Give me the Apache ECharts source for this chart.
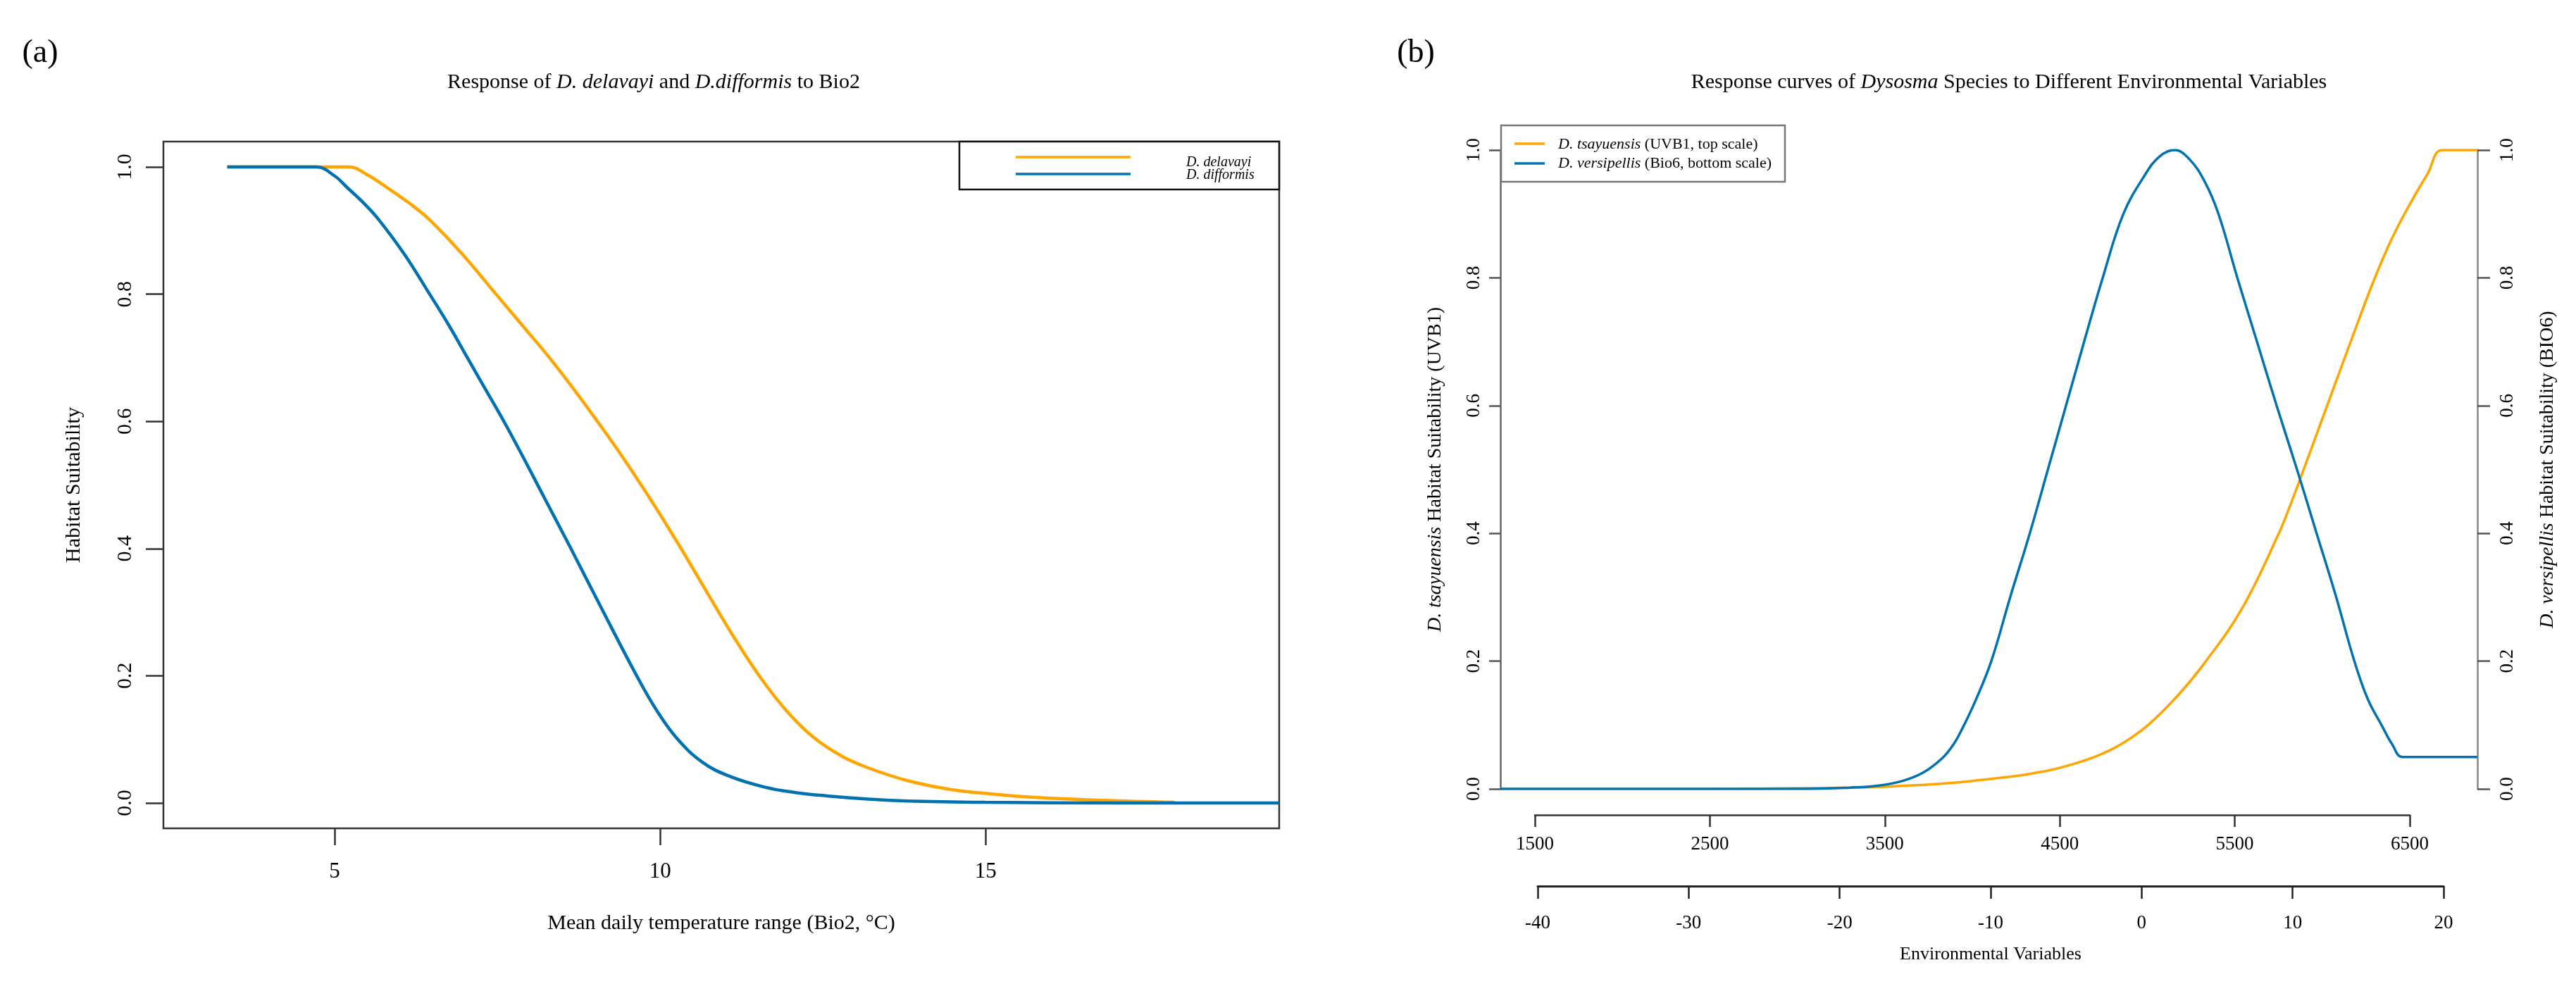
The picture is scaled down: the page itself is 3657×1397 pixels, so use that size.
<!DOCTYPE html>
<html>
<head>
<meta charset="utf-8">
<script src="https://cdn.jsdelivr.net/npm/echarts@6/dist/echarts.min.js"></script>
<style>
html,body{margin:0;padding:0;background:#fff;}
#chart{width:3657px;height:1397px;}
</style>
</head>
<body>
<div id="chart"></div>
<script>
// ---------- Panel (a): response to Bio2 ----------
const bio2X_delavayi = [3.35, 5.22, 5.5, 5.83, 6.15, 6.46, 6.97, 7.48, 7.9, 8.3, 8.67, 9.03, 9.43, 9.83, 10.1, 10.34, 10.75, 11.15, 11.55, 11.95, 12.37, 12.8, 13.2, 13.8, 14.47, 15.1, 15.7, 16.8, 17.9];
const suit_delavayi = [1.0, 1.0, 0.988, 0.966, 0.943, 0.917, 0.862, 0.8, 0.749, 0.7, 0.651, 0.601, 0.543, 0.481, 0.437, 0.397, 0.326, 0.258, 0.196, 0.144, 0.102, 0.073, 0.055, 0.035, 0.021, 0.014, 0.009, 0.004, 0.001];
const bio2X_difformis = [3.35, 4.72, 5.0, 5.19, 5.45, 5.68, 6.07, 6.46, 6.75, 7.04, 7.32, 7.6, 7.9, 8.18, 8.4, 8.63, 9.13, 9.64, 9.95, 10.27, 10.65, 11.04, 11.6, 12.1, 12.56, 13.2, 13.8, 15.0, 17.0, 19.51];
const suit_difformis = [1.0, 1.0, 0.986, 0.968, 0.943, 0.917, 0.863, 0.8, 0.752, 0.7, 0.65, 0.6, 0.543, 0.488, 0.445, 0.4, 0.3, 0.2, 0.145, 0.1, 0.064, 0.043, 0.025, 0.016, 0.011, 0.006, 0.003, 0.001, 0.0, 0.0];
const bio2Ticks = [5, 10, 15];
const suitTicks = [0, 0.2, 0.4, 0.6, 0.8, 1.0];

// ---------- Panel (b): D. tsayuensis (UVB1, top scale) ----------
const uvb1X_tsayuensis = [1303, 2000, 2500, 3000, 3300, 3468, 3700, 3871, 4050, 4246, 4339, 4500, 4698, 4850, 5004, 5170, 5335, 5542, 5750, 5811, 5873, 6010, 6150, 6290, 6400, 6516, 6600, 6685, 6886];
const suit_tsayuensis = [0, 0, 0, 0.001, 0.002, 0.003, 0.006, 0.009, 0.014, 0.02, 0.024, 0.033, 0.05, 0.07, 0.1, 0.145, 0.2, 0.283, 0.399, 0.44, 0.485, 0.587, 0.691, 0.793, 0.863, 0.923, 0.962, 1.0, 1.0];
// ---------- Panel (b): D. versipellis (Bio6, bottom scale) ----------
const bio6X_versipellis = [-42.47, -30, -22, -19.3, -17.5, -15.9, -14.5, -13.2, -12.5, -11.9, -11.0, -9.95, -8.7, -7.4, -6.2, -5.0, -3.8, -2.57, -1.2, 0.2, 1.2, 2.2, 3.2, 4.2, 5.1, 6.35, 7.65, 8.95, 10.3, 11.6, 12.9, 14.1, 15.0, 15.9, 16.6, 17.3, 22.25];
const suit_versipellis = [0, 0, 0, 0.002, 0.005, 0.012, 0.025, 0.048, 0.068, 0.093, 0.138, 0.2, 0.3, 0.4, 0.5, 0.6, 0.7, 0.8, 0.9, 0.96, 0.99, 1.0, 0.985, 0.95, 0.9, 0.8, 0.7, 0.6, 0.5, 0.4, 0.3, 0.2, 0.14, 0.1, 0.07, 0.05, 0.05];
const uvb1Ticks = { min: 1500, max: 6500, interval: 1000 };
const bio6Ticks = { min: -40, max: 20, interval: 10 };

const ORANGE = '#FFA500';
const BLUE = '#0072B2';
const SERIF = 'Liberation Serif';

const pairs = (xs, ys) => xs.map((x, i) => [x, ys[i]]);
const fmt1 = v => Number(v).toFixed(1);
const fmtPlain = v => String(v);

const chart = echarts.init(document.getElementById('chart'), null, {renderer: 'canvas'});

const italicRich = size => ({ i: { fontStyle: 'italic', fontFamily: SERIF, fontSize: size, color: '#000' } });

// panel (b) data area extent in axis units
const bPlot = { uvbMin: 1303, uvbMax: 6886, bioMin: -42.47, bioMax: 22.25 };

const option = {
  animation: false,
  backgroundColor: '#fff',
  textStyle: { fontFamily: SERIF },
  grid: [
    { left: 232, top: 201, width: 1584, height: 975, show: true, borderColor: '#333', borderWidth: 2.5, backgroundColor: 'transparent' },
    { left: 2179, top: 213, width: 1242, height: 907 },
    { left: 2183, top: 213, width: 1286, height: 907 },
    { left: 2130, top: 213, width: 1387, height: 907 }
  ],
  xAxis: [
    {
      type: 'value', gridIndex: 0, min: 2.37, max: 19.51, position: 'bottom',
      axisLine: { show: false, onZero: false },
      splitLine: { show: false },
      axisTick: { show: true, customValues: bio2Ticks, length: 24, lineStyle: { color: '#333', width: 2.5 } },
      axisLabel: { customValues: bio2Ticks, margin: 46, fontSize: 31, fontFamily: SERIF, color: '#000' },
      name: 'Mean daily temperature range (Bio2, \u00B0C)', nameLocation: 'middle', nameGap: 120,
      nameTextStyle: { fontSize: 30, fontFamily: SERIF, color: '#000' }
    },
    {
      type: 'value', gridIndex: 1, min: uvb1Ticks.min, max: uvb1Ticks.max, interval: uvb1Ticks.interval, position: 'bottom', offset: 37,
      axisLine: { show: true, onZero: false, lineStyle: { color: '#333', width: 2.5 } },
      splitLine: { show: false },
      axisTick: { show: true, length: 17, lineStyle: { color: '#333', width: 2.5 } },
      axisLabel: { margin: 28, fontSize: 27, fontFamily: SERIF, color: '#000', showMinLabel: true, showMaxLabel: true, formatter: fmtPlain }
    },
    {
      type: 'value', gridIndex: 2, min: bio6Ticks.min, max: bio6Ticks.max, interval: bio6Ticks.interval, position: 'bottom', offset: 138,
      axisLine: { show: true, onZero: false, lineStyle: { color: '#222', width: 3 } },
      splitLine: { show: false },
      axisTick: { show: true, length: 18, lineStyle: { color: '#222', width: 2.5 } },
      axisLabel: { margin: 39, fontSize: 27, fontFamily: SERIF, color: '#000', showMinLabel: true, showMaxLabel: true, formatter: fmtPlain },
      name: 'Environmental Variables', nameLocation: 'middle', nameGap: 84,
      nameTextStyle: { fontSize: 26, fontFamily: SERIF, color: '#000' }
    },
    { type: 'value', gridIndex: 3, min: bPlot.uvbMin, max: bPlot.uvbMax, show: false, splitLine: { show: false } },
    { type: 'value', gridIndex: 3, min: bPlot.bioMin, max: bPlot.bioMax, show: false, splitLine: { show: false } }
  ],
  yAxis: [
    {
      type: 'value', gridIndex: 0, min: -0.04, max: 1.04,
      axisLine: { show: false, onZero: false },
      splitLine: { show: false },
      axisTick: { show: true, customValues: suitTicks, length: 25, lineStyle: { color: '#333', width: 2.5 } },
      axisLabel: { customValues: suitTicks, rotate: 90, margin: 39, fontSize: 30, fontFamily: SERIF, color: '#000', formatter: fmt1 },
      name: 'Habitat Suitability', nameLocation: 'middle', nameRotate: 90, nameGap: 112,
      nameTextStyle: { fontSize: 30, fontFamily: SERIF, color: '#000' }
    },
    { type: 'value', gridIndex: 1, min: 0, max: 1, show: false, splitLine: { show: false } },
    { type: 'value', gridIndex: 2, min: 0, max: 1, show: false, splitLine: { show: false } },
    {
      type: 'value', gridIndex: 3, min: 0, max: 1, interval: 0.2, position: 'left',
      axisLine: { show: true, onZero: false, lineStyle: { color: '#666', width: 2.5 } },
      splitLine: { show: false },
      axisTick: { show: true, length: 16, lineStyle: { color: '#555', width: 2.5 } },
      axisLabel: { rotate: 90, margin: 24, fontSize: 27, fontFamily: SERIF, color: '#000', formatter: fmt1, showMinLabel: true, showMaxLabel: true },
      name: '{i|D. tsayuensis} Habitat Suitability (UVB1)', nameLocation: 'middle', nameRotate: 90, nameGap: 78,
      nameTextStyle: { fontSize: 28, fontFamily: SERIF, color: '#000', rich: italicRich(28) }
    },
    {
      type: 'value', gridIndex: 3, min: 0, max: 1, interval: 0.2, position: 'right',
      axisLine: { show: true, onZero: false, lineStyle: { color: '#888', width: 2.5 } },
      splitLine: { show: false },
      axisTick: { show: true, length: 18, lineStyle: { color: '#555', width: 2.5 } },
      axisLabel: { rotate: 90, margin: 29, fontSize: 27, fontFamily: SERIF, color: '#000', formatter: fmt1, showMinLabel: true, showMaxLabel: true },
      name: '{i|D. versipellis} Habitat Suitability (BIO6)', nameLocation: 'middle', nameRotate: 90, nameGap: 86,
      nameTextStyle: { fontSize: 28, fontFamily: SERIF, color: '#000', rich: italicRich(28) }
    }
  ],
  series: [
    {
      name: 'D. delavayi', type: 'line', xAxisIndex: 0, yAxisIndex: 0,
      data: pairs(bio2X_delavayi, suit_delavayi), showSymbol: false, smooth: 0.4,
      lineStyle: { color: ORANGE, width: 4.5 }, itemStyle: { color: ORANGE }, z: 3
    },
    {
      name: 'D. difformis', type: 'line', xAxisIndex: 0, yAxisIndex: 0,
      data: pairs(bio2X_difformis, suit_difformis), showSymbol: false, smooth: 0.4,
      lineStyle: { color: BLUE, width: 4.5 }, itemStyle: { color: BLUE }, z: 4
    },
    {
      name: 'D. tsayuensis (UVB1, top scale)', type: 'line', xAxisIndex: 3, yAxisIndex: 3,
      data: pairs(uvb1X_tsayuensis, suit_tsayuensis), showSymbol: false, smooth: 0.4,
      lineStyle: { color: ORANGE, width: 3.5 }, itemStyle: { color: ORANGE }, z: 3
    },
    {
      name: 'D. versipellis (Bio6, bottom scale)', type: 'line', xAxisIndex: 4, yAxisIndex: 3,
      data: pairs(bio6X_versipellis, suit_versipellis), showSymbol: false, smooth: 0.4,
      lineStyle: { color: BLUE, width: 3.5 }, itemStyle: { color: BLUE }, z: 4
    }
  ],
  graphic: [
    { type: 'text', x: 57, y: 76, z: 100, style: { text: '(a)', font: '46px "Liberation Serif"', fill: '#000', align: 'center', verticalAlign: 'middle' } },
    { type: 'text', x: 2010, y: 76, z: 100, style: { text: '(b)', font: '46px "Liberation Serif"', fill: '#000', align: 'center', verticalAlign: 'middle' } },
    { type: 'text', x: 928, y: 117, z: 100, style: {
        text: 'Response of {i|D. delavayi} and {i|D.difformis} to Bio2',
        fontFamily: SERIF, fontSize: 30, fill: '#000', align: 'center', verticalAlign: 'middle',
        rich: { i: { fontStyle: 'italic', fontFamily: SERIF, fontSize: 30, fill: '#000' } } } },
    { type: 'text', x: 2852, y: 117, z: 100, style: {
        text: 'Response curves of {i|Dysosma} Species to Different Environmental Variables',
        fontFamily: SERIF, fontSize: 30, fill: '#000', align: 'center', verticalAlign: 'middle',
        rich: { i: { fontStyle: 'italic', fontFamily: SERIF, fontSize: 30, fill: '#000' } } } },
    // legend (a)
    { type: 'rect', z: 100, shape: { x: 1362, y: 201, width: 454, height: 68 }, style: { fill: '#fff', stroke: '#111', lineWidth: 2.5 } },
    { type: 'line', z: 101, shape: { x1: 1442, y1: 223, x2: 1605, y2: 223 }, style: { stroke: ORANGE, lineWidth: 3.5 } },
    { type: 'line', z: 101, shape: { x1: 1442, y1: 247, x2: 1605, y2: 247 }, style: { stroke: BLUE, lineWidth: 3.5 } },
    { type: 'text', z: 101, x: 1684, y: 231, style: { text: 'D. delavayi', font: 'italic 20px "Liberation Serif"', fill: '#000', align: 'left', verticalAlign: 'middle' } },
    { type: 'text', z: 101, x: 1684, y: 249, style: { text: 'D. difformis', font: 'italic 20px "Liberation Serif"', fill: '#000', align: 'left', verticalAlign: 'middle' } },
    // legend (b)
    { type: 'rect', z: 100, shape: { x: 2131, y: 178, width: 403, height: 80 }, style: { fill: '#fff', stroke: '#777', lineWidth: 2.5 } },
    { type: 'line', z: 101, shape: { x1: 2150, y1: 204, x2: 2193, y2: 204 }, style: { stroke: ORANGE, lineWidth: 3.5 } },
    { type: 'line', z: 101, shape: { x1: 2150, y1: 232, x2: 2193, y2: 232 }, style: { stroke: BLUE, lineWidth: 3.5 } },
    { type: 'text', z: 101, x: 2212, y: 205, style: {
        text: '{i|D. tsayuensis} (UVB1, top scale)', fontFamily: SERIF, fontSize: 22, fill: '#000', align: 'left', verticalAlign: 'middle',
        rich: { i: { fontStyle: 'italic', fontFamily: SERIF, fontSize: 22, fill: '#000' } } } },
    { type: 'text', z: 101, x: 2212, y: 232, style: {
        text: '{i|D. versipellis} (Bio6, bottom scale)', fontFamily: SERIF, fontSize: 22, fill: '#000', align: 'left', verticalAlign: 'middle',
        rich: { i: { fontStyle: 'italic', fontFamily: SERIF, fontSize: 22, fill: '#000' } } } }
  ]
};

chart.setOption(option);
</script>
</body>
</html>
